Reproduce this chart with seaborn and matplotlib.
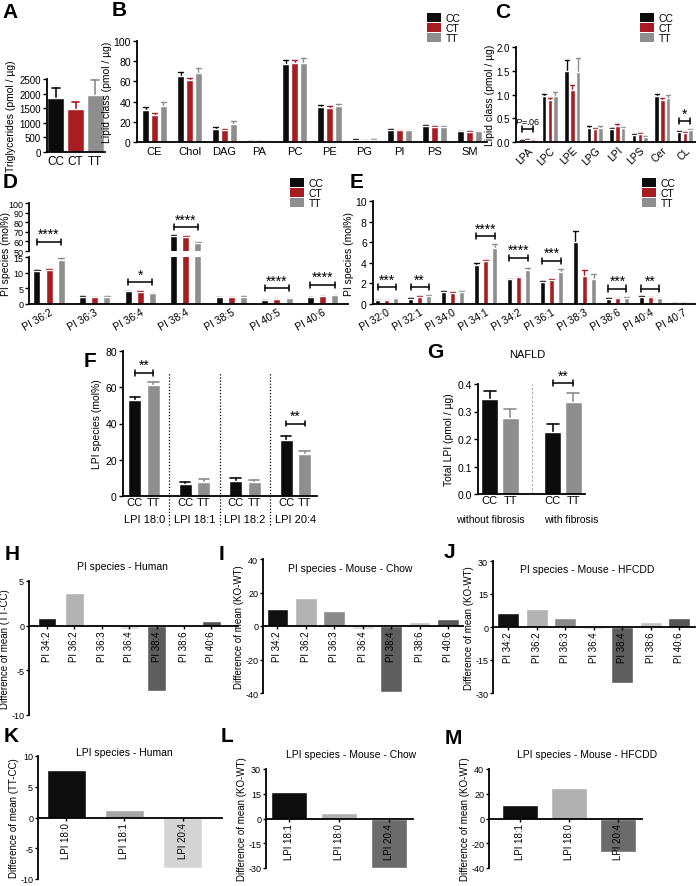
import matplotlib
matplotlib.use('Agg')
import matplotlib.pyplot as plt
from matplotlib.patches import Patch
from matplotlib.ticker import FormatStrFormatter
import seaborn as sns
import pandas as pd

sns.set_style('ticks')
plt.rcParams.update({
    'font.family': ['Liberation Sans', 'DejaVu Sans'],
    'mathtext.fontset': 'custom',
    'mathtext.it': 'Liberation Sans:italic',
    'mathtext.rm': 'Liberation Sans',
    'axes.linewidth': 1.3,
    'axes.edgecolor': 'black',
    'axes.labelcolor': 'black',
    'text.color': 'black',
    'xtick.color': 'black',
    'ytick.color': 'black',
    'xtick.major.width': 1.0,
    'ytick.major.width': 1.0,
    'xtick.major.size': 3,
    'ytick.major.size': 3,
    'xtick.labelsize': 7.5,
    'ytick.labelsize': 7.5,
    'axes.labelsize': 7.5,
    'axes.axisbelow': False,
    'axes.unicode_minus': False,
})

# ---- data ----
genos = ['CC', 'CT', 'TT']
pal3 = {'CC': '#0c0c0c', 'CT': '#a71d22', 'TT': '#8e8e8e'}
pal2 = {'CC': '#0c0c0c', 'TT': '#8e8e8e'}

# A - triglycerides
a_vals = [1850, 1480, 1950]
a_err = [350, 220, 520]

# B - lipid classes
b_cats = ['CE', 'Chol', 'DAG', 'PA', 'PC', 'PE', 'PG', 'PI', 'PS', 'SM']
b_cc = [31.5, 65, 12.8, 0.6, 77.7, 34.4, 2.3, 12.1, 15.4, 10.5]
b_ct = [27.2, 61, 11.8, 0.5, 78.7, 33.8, 2.0, 11.5, 15.1, 10.2]
b_tt = [35.4, 68, 17.4, 0.6, 78.4, 35.4, 2.3, 11.5, 15.1, 10.5]
b_cc_err = [3.0, 4.0, 1.6, 0.1, 3.9, 2.0, 0.3, 1.0, 1.0, 0.6]
b_ct_err = [1.7, 2.0, 0.7, 0.1, 2.6, 1.6, 0.2, 0.6, 0.6, 0.5]
b_tt_err = [3.9, 5.4, 2.9, 0.1, 4.6, 2.0, 0.3, 0.6, 1.2, 0.6]

# C - lyso lipids
c_cats = ['LPA', 'LPC', 'LPE', 'LPG', 'LPI', 'LPS', 'Cer', 'CL']
c_cc = [0.03, 0.96, 1.50, 0.30, 0.28, 0.14, 0.96, 0.21]
c_ct = [0.05, 0.88, 1.10, 0.27, 0.34, 0.17, 0.89, 0.20]
c_tt = [0.06, 0.96, 1.47, 0.30, 0.29, 0.11, 0.93, 0.25]
c_cc_err = [0.01, 0.06, 0.23, 0.03, 0.02, 0.02, 0.05, 0.02]
c_ct_err = [0.01, 0.04, 0.09, 0.02, 0.03, 0.02, 0.04, 0.02]
c_tt_err = [0.01, 0.09, 0.30, 0.04, 0.03, 0.01, 0.05, 0.02]

# D - PI species (major)
d_cats = ['PI 36:2', 'PI 36:3', 'PI 36:4', 'PI 38:4', 'PI 38:5', 'PI 40:5', 'PI 40:6']
d_cc = [10.4, 2.2, 4.0, 65.5, 2.1, 1.3, 2.1]
d_ct = [11.0, 2.2, 3.9, 65.0, 2.1, 1.5, 2.4]
d_tt = [14.1, 2.3, 3.4, 58.0, 2.2, 1.9, 2.8]
d_cc_err = [0.4, 0.2, 0.2, 1.2, 0.2, 0.1, 0.15]
d_ct_err = [0.2, 0.1, 0.2, 0.8, 0.1, 0.1, 0.1]
d_tt_err = [0.5, 0.2, 0.2, 1.5, 0.2, 0.1, 0.2]

# E - PI species (minor)
e_cats = ['PI 32:0', 'PI 32:1', 'PI 34:0', 'PI 34:1', 'PI 34:2',
          'PI 36:1', 'PI 38:3', 'PI 38:6', 'PI 40:4', 'PI 40:7']
e_cc = [0.38, 0.52, 1.2, 3.8, 2.4, 2.1, 6.0, 0.5, 0.7, 0.08]
e_ct = [0.38, 0.68, 1.1, 4.15, 2.6, 2.3, 2.7, 0.55, 0.67, 0.07]
e_tt = [0.58, 0.82, 1.15, 5.45, 3.3, 3.1, 2.45, 0.6, 0.57, 0.08]
e_cc_err = [0.05, 0.06, 0.08, 0.22, 0.07, 0.15, 1.1, 0.04, 0.05, 0.01]
e_ct_err = [0.03, 0.06, 0.05, 0.15, 0.06, 0.12, 0.6, 0.04, 0.04, 0.01]
e_tt_err = [0.05, 0.10, 0.08, 0.40, 0.15, 0.25, 0.45, 0.06, 0.05, 0.01]

# F - LPI species CC vs TT
f_cats = ['LPI 18:0', 'LPI 18:1', 'LPI 18:2', 'LPI 20:4']
f_cc = [53, 6.5, 8.5, 31]
f_tt = [61, 8.0, 7.8, 23.3]
f_cc_err = [1.5, 1.2, 1.3, 2.0]
f_tt_err = [1.8, 1.5, 1.3, 1.5]

# G - total LPI NAFLD
g_groups = ['without fibrosis', 'with fibrosis']
g_cc = [0.345, 0.225]
g_tt = [0.275, 0.335]
g_cc_err = [0.030, 0.028]
g_tt_err = [0.035, 0.032]

# H-J - differences of mean, PI species
pi_cats = ['PI 34:2', 'PI 36:2', 'PI 36:3', 'PI 36:4', 'PI 38:4', 'PI 38:6', 'PI 40:6']
pi_cols = ['#111111', '#b3b3b3', '#8a8a8a', '#d6d6d6', '#5e5e5e', '#c4c4c4', '#555555']
h_vals = [0.85, 3.7, 0.15, -0.4, -7.3, -0.15, 0.55]
i_vals = [10, 16.7, 9.2, -1.8, -39.5, 2.2, 4.2]
j_vals = [6.5, 8.3, 4.2, -0.8, -25.5, 2.4, 4.2]

# K-M - differences of mean, LPI species
k_cats = ['LPI 18:0', 'LPI 18:1', 'LPI 20:4']
k_vals = [7.7, 1.3, -8.2]
k_cols = ['#0d0d0d', '#a6a6a6', '#d4d4d4']
lm_cats = ['LPI 18:1', 'LPI 18:0', 'LPI 20:4']
lm_cols = ['#0d0d0d', '#b0b0b0', '#6b6b6b']
l_vals = [16.2, 3.3, -30]
m_vals = [11.2, 25, -27]

# ---- layout helpers ----
W, H = 696, 887
fig = plt.figure(figsize=(W / 100, H / 100), dpi=100)


def box(x0, x1, y0, y1):
    ax = fig.add_axes([x0 / W, 1 - y1 / H, (x1 - x0) / W, (y1 - y0) / H])
    ax.spines[['top', 'right']].set_visible(False)
    return ax


def long_df(cats, series, names):
    rows = []
    for name, vals in zip(names, series):
        for c, v in zip(cats, vals):
            rows.append({'cat': c, 'geno': name, 'val': v})
    return pd.DataFrame(rows)


def add_err(ax, errs, capfrac=0.3, lw=1.0):
    for h, cont in enumerate(ax.containers):
        for bar in cont:
            w = bar.get_width()
            xc = bar.get_x() + w / 2
            c = int(round(xc))
            top = bar.get_height()
            e = errs[h][c]
            col = bar.get_facecolor()
            ax.plot([xc, xc], [top, top + e], color=col, lw=lw, zorder=0.9)
            ax.plot([xc - capfrac * w, xc + capfrac * w], [top + e, top + e],
                    color=col, lw=lw, zorder=0.9)


def bar_pos(ax):
    pos = {}
    for h, cont in enumerate(ax.containers):
        for bar in cont:
            xc = bar.get_x() + bar.get_width() / 2
            pos[(h, int(round(xc)))] = xc
    return pos


def bracket(ax, x1, x2, y, text, d, fs=10, italic=False):
    ax.plot([x1, x2], [y, y], color='k', lw=1.1, clip_on=False, zorder=3)
    for x in (x1, x2):
        ax.plot([x, x], [y - d, y + d], color='k', lw=1.1, clip_on=False, zorder=3)
    ax.annotate(text, ((x1 + x2) / 2, y), xytext=(0, 0.5 if not italic else 2),
                textcoords='offset points', ha='center', va='bottom',
                fontsize=fs, annotation_clip=False)


def grouped(ax, cats, series, names, pal, width, gap):
    df = long_df(cats, series, names)
    sns.barplot(data=df, x='cat', y='val', hue='geno', order=cats, hue_order=names,
                palette=pal, width=width, gap=gap, errorbar=None, legend=False,
                saturation=1, ax=ax)
    ax.set_xlabel('')
    ax.set_ylabel('')


def legend3(ax, x, y):
    handles = [Patch(facecolor=pal3[g], edgecolor='none') for g in genos]
    ax.legend(handles, genos, loc='upper left', bbox_to_anchor=(x / W, 1 - y / H),
              bbox_transform=fig.transFigure, frameon=False, fontsize=7.5,
              handlelength=1.3, handleheight=0.95, labelspacing=0.0,
              handletextpad=0.5, borderpad=0, borderaxespad=0)


def letter(x, y, s):
    fig.text(x / W, 1 - y / H, s, fontsize=15, fontweight='bold', ha='center', va='center')


# ---- A ----
ax = box(47, 105, 80, 153)
sns.barplot(x=genos, y=a_vals, hue=genos, palette=pal3, width=0.86, errorbar=None,
            legend=False, saturation=1, ax=ax)
add_err(ax, [a_err] * 3, capfrac=0.22, lw=1.2)
ax.set_ylim(0, 2500)
ax.set_yticks([0, 500, 1000, 1500, 2000, 2500])
ax.set_xlim(-0.45, 2.5)
ax.tick_params(axis='x', length=0, labelsize=8.5, pad=2)
ax.tick_params(axis='y', labelsize=7, pad=1.5)
ax.set_ylabel('Triglycerides (pmol / µg)', labelpad=2)
letter(10, 13, 'A')

# ---- B ----
ax = box(137, 487, 42, 143)
grouped(ax, b_cats, [b_cc, b_ct, b_tt], genos, pal3, 0.75, 0.25)
add_err(ax, [b_cc_err, b_ct_err, b_tt_err], capfrac=0.4)
ax.set_ylim(0, 100)
ax.set_yticks(range(0, 101, 20))
ax.set_xlim(-0.5, 9.5)
ax.tick_params(axis='x', length=0, labelsize=8, pad=3)
ax.tick_params(axis='y', pad=1.5)
ax.set_ylabel('Lipid class (pmol / µg)', labelpad=1)
legend3(ax, 427, 14)
letter(119, 10, 'B')

# ---- C ----
ax = box(516, 696, 48, 143)
grouped(ax, c_cats, [c_cc, c_ct, c_tt], genos, pal3, 0.75, 0.2)
add_err(ax, [c_cc_err, c_ct_err, c_tt_err], capfrac=0.45)
ax.set_ylim(0, 2.0)
ax.set_yticks([0, 0.5, 1.0, 1.5, 2.0])
ax.yaxis.set_major_formatter(FormatStrFormatter('%.1f'))
ax.set_xlim(-0.5, 7.5)
ax.tick_params(axis='x', length=0, labelsize=7.5, pad=2)
ax.tick_params(axis='y', labelsize=7, pad=1.5)
plt.setp(ax.get_xticklabels(), rotation=45, ha='right', rotation_mode='anchor')
ax.set_ylabel('Lipid class (pmol / µg)', labelpad=1)
p = bar_pos(ax)
bracket(ax, p[(0, 0)], p[(2, 0)], 0.27, r'$\mathit{P}$=.06', 0.06, fs=6.5, italic=True)
bracket(ax, p[(0, 7)], p[(2, 7)], 0.44, '*', 0.06)
legend3(ax, 640, 14)
letter(503, 13, 'C')

# ---- D (broken axis) ----
d_series = [d_cc, d_ct, d_tt]
d_errs = [d_cc_err, d_ct_err, d_tt_err]
axt = box(29, 348, 204, 252)
axb = box(29, 348, 258, 305)
for a in (axt, axb):
    grouped(a, d_cats, d_series, genos, pal3, 0.8, 0.42)
    add_err(a, d_errs, capfrac=0.4)
    a.set_xlim(-0.44, 6.56)
    a.tick_params(axis='y', labelsize=6.5, pad=1)
axt.set_ylim(50, 100)
axt.set_yticks(range(50, 101, 10))
axt.spines['bottom'].set_visible(False)
axt.tick_params(axis='x', bottom=False, labelbottom=False)
axb.set_ylim(0, 15)
axb.set_yticks([0, 5, 10, 15])
axb.tick_params(axis='x', length=0, labelsize=7.5, pad=2)
plt.setp(axb.get_xticklabels(), rotation=30, ha='right', rotation_mode='anchor')
p = bar_pos(axb)
bracket(axt, p[(0, 0)], p[(2, 0)], 59.5, '****', 3)
bracket(axt, p[(0, 3)], p[(2, 3)], 75, '****', 3)
bracket(axb, p[(0, 2)], p[(2, 2)], 7.0, '*', 1.0)
bracket(axb, p[(0, 5)], p[(2, 5)], 5.1, '****', 1.0)
bracket(axb, p[(0, 6)], p[(2, 6)], 6.1, '****', 1.0)
fig.text(6 / W, 1 - 254 / H, 'PI species (mol%)', rotation=90, ha='center', va='center',
         fontsize=7.5)
legend3(axt, 290, 179)
letter(10, 183, 'D')

# ---- E ----
ax = box(373, 696, 202, 305)
grouped(ax, e_cats, [e_cc, e_ct, e_tt], genos, pal3, 0.82, 0.4)
add_err(ax, [e_cc_err, e_ct_err, e_tt_err], capfrac=0.45)
ax.set_ylim(0, 10)
ax.set_yticks(range(0, 11, 2))
ax.set_xlim(-0.41, 9.38)
ax.tick_params(axis='x', length=0, labelsize=7.5, pad=2)
ax.tick_params(axis='y', pad=1.5)
plt.setp(ax.get_xticklabels(), rotation=30, ha='right', rotation_mode='anchor')
ax.set_ylabel('PI species (mol%)', labelpad=1)
p = bar_pos(ax)
for c, y, s in [(0, 1.65, '***'), (1, 1.65, '**'), (3, 6.6, '****'), (4, 4.5, '****'),
                (5, 4.2, '***'), (7, 1.5, '***'), (8, 1.5, '**')]:
    bracket(ax, p[(0, c)], p[(2, c)], y, s, 0.3)
legend3(ax, 642, 179)
letter(357, 183, 'E')

# ---- F ----
ax = box(123, 317, 352, 497)
grouped(ax, f_cats, [f_cc, f_tt], ['CC', 'TT'], pal2, 0.736, 0.3)
add_err(ax, [f_cc_err, f_tt_err], capfrac=0.4, lw=1.2)
ax.set_ylim(0, 80)
ax.set_yticks(range(0, 81, 20))
ax.set_xlim(-0.42, 3.43)
p = bar_pos(ax)
ticks = sorted(p.items(), key=lambda kv: kv[1])
ax.set_xticks([v for k, v in ticks])
ax.set_xticklabels(['CC' if k[0] == 0 else 'TT' for k, v in ticks])
ax.tick_params(axis='x', length=0, labelsize=8, pad=1)
ax.tick_params(axis='y', pad=1.5)
for c, name in enumerate(f_cats):
    ax.text(c, -0.16, name, transform=ax.get_xaxis_transform(), ha='center', va='center',
            fontsize=8)
for c in range(3):
    ax.plot([c + 0.5, c + 0.5], [-0.2, 0.85], transform=ax.get_xaxis_transform(),
            ls=(0, (1, 1.5)), color='k', lw=0.9, clip_on=False)
bracket(ax, p[(0, 0)], p[(1, 0)], 68, '**', 1.6)
bracket(ax, p[(0, 3)], p[(1, 3)], 40, '**', 1.6)
ax.set_ylabel('LPI species (mol%)', labelpad=2)
letter(90, 362, 'F')

# ---- G ----
ax = box(478, 585, 385, 495)
grouped(ax, g_groups, [g_cc, g_tt], ['CC', 'TT'], pal2, 0.655, 0.19)
add_err(ax, [g_cc_err, g_tt_err], capfrac=0.35, lw=1.2)
ax.set_ylim(0, 0.4)
ax.set_yticks([0, 0.1, 0.2, 0.3, 0.4])
ax.yaxis.set_major_formatter(FormatStrFormatter('%.1f'))
ax.set_xlim(-0.35, 1.35)
p = bar_pos(ax)
ticks = sorted(p.items(), key=lambda kv: kv[1])
ax.set_xticks([v for k, v in ticks])
ax.set_xticklabels(['CC' if k[0] == 0 else 'TT' for k, v in ticks])
ax.tick_params(axis='x', length=0, labelsize=8, pad=1)
ax.tick_params(axis='y', pad=1.5)
for xg, name in zip([-0.15, 1.13], g_groups):
    ax.text(xg, -0.227, name, transform=ax.get_xaxis_transform(), ha='center', va='center',
            fontsize=7.5)
ax.axvline(0.5, 0, 1, color='#999999', lw=0.6, ls=(0, (3, 2)))
bracket(ax, p[(0, 1)], p[(1, 1)], 0.403, '**', 0.011)
ax.set_ylabel('Total LPI (pmol / µg)', labelpad=2)
fig.text(527 / W, 1 - 355 / H, 'NAFLD', ha='center', va='center', fontsize=8)
letter(435, 353, 'G')


# ---- H-M ----
def diff_panel(px, cats, vals, cols, ylim, ticks, width, xlim, ylabel, title, tpos):
    ax = box(*px)
    sns.barplot(x=cats, y=vals, hue=cats, palette=cols, width=width, errorbar=None,
                legend=False, saturation=1, ax=ax)
    ax.spines['bottom'].set_position(('data', 0))
    ax.set_ylim(ylim)
    ax.set_yticks(ticks)
    ax.set_xlim(xlim)
    ax.tick_params(axis='x', labelrotation=90, length=2.5, labelsize=7, pad=1)
    ax.tick_params(axis='y', labelsize=6.5, length=2.5, pad=1)
    ax.set_xlabel('')
    ax.set_ylabel(ylabel, fontsize=7, labelpad=1)
    fig.text(tpos[0] / W, 1 - tpos[1] / H, title, ha='center', va='center', fontsize=7.5)
    return ax


diff_panel((29, 238, 582, 716), pi_cats, h_vals, pi_cols, (-10, 5), [-10, -5, 0, 5], 0.68,
           (-0.66, 6.97), 'Difference of mean (TT-CC)', 'PI species - Human', (122, 567))
letter(12, 555, 'H')
diff_panel((263, 463, 560, 694), pi_cats, i_vals, pi_cols, (-40, 40), [-40, -20, 0, 20, 40],
           0.77, (-0.51, 6.53), 'Difference of mean (KO-WT)', 'PI species - Mouse - Chow',
           (350, 569))
letter(221, 555, 'I')
diff_panel((493, 695, 562, 694), pi_cats, j_vals, pi_cols, (-30, 30), [-30, -15, 0, 15, 30],
           0.77, (-0.53, 6.56), 'Difference of mean (KO-WT)', 'PI species - Mouse - HFCDD',
           (587, 570))
letter(449, 552, 'J')

diff_panel((38, 222, 757, 880), k_cats, k_vals, k_cols, (-10, 10), [-10, -5, 0, 5, 10],
           0.66, (-0.49, 2.68), 'Difference of mean (TT-CC)', 'LPI species - Human',
           (124, 753))
letter(11, 737, 'K')
diff_panel((266, 413, 770, 869), lm_cats, l_vals, lm_cols, (-30, 30), [-30, -15, 0, 15, 30],
           0.72, (-0.46, 2.48), 'Difference of mean (KO-WT)', 'LPI species - Mouse - Chow',
           (351, 755))
letter(227, 737, 'L')
diff_panel((489, 642, 770, 869), lm_cats, m_vals, lm_cols, (-40, 40), [-40, -20, 0, 20, 40],
           0.72, (-0.63, 2.49), 'Difference of mean (KO-WT)', 'LPI species - Mouse - HFCDD',
           (587, 755))
letter(453, 738, 'M')

fig.savefig('out.png', dpi=100)
